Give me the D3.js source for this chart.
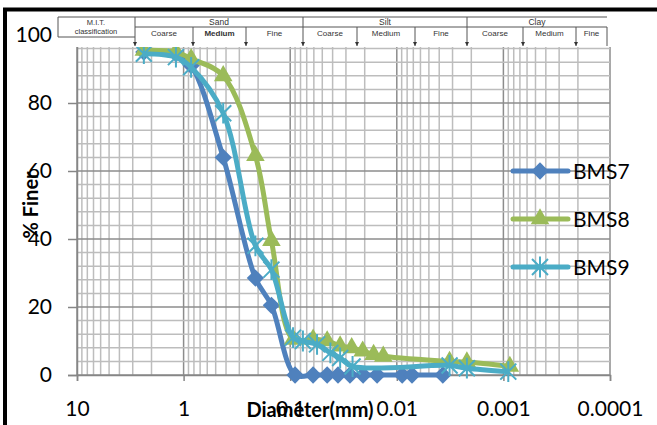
<!DOCTYPE html>
<html>
<head>
<meta charset="utf-8">
<script src="https://cdn.jsdelivr.net/npm/d3@7"></script>
<style>
  body { margin: 0; background: #fff; }
  svg { display: block; font-family: Lato, "Liberation Sans", sans-serif; }
</style>
</head>
<body>
<div id="chart"></div>
<script>
// sieve + hydrometer results, diameter in mm, % finer
const bms7Dia = [2.36, 1.18, 0.85, 0.425, 0.212, 0.15, 0.09, 0.061, 0.045, 0.0356, 0.0275, 0.0207, 0.0153, 0.0089, 0.0072, 0.0037];
const bms7Pct = [95, 94.5, 91, 64, 28.5, 20.5, 0, 0, 0, 0, 0, 0, 0, 0, 0, 0];

const bms8Dia = [2.36, 1.18, 0.85, 0.425, 0.212, 0.15, 0.094, 0.061, 0.045, 0.034, 0.0265, 0.0209, 0.0165, 0.0134, 0.0032, 0.0022, 0.00087];
const bms8Pct = [95.5, 95, 93, 88, 64.5, 39.5, 10.5, 10.5, 10, 8.5, 8, 7, 6, 5.5, 4, 3.8, 2.5];

const bms9Dia = [2.36, 1.18, 0.85, 0.425, 0.212, 0.15, 0.094, 0.076, 0.056, 0.042, 0.034, 0.026, 0.0032, 0.0022, 0.0009];
const bms9Pct = [94.5, 93.5, 90.5, 77, 38, 31, 11, 10, 9, 6.5, 5, 2.5, 2.8, 2, 1];

const seriesNames = ["BMS7", "BMS8", "BMS9"];
const xTicks = [10, 1, 0.1, 0.01, 0.001, 0.0001];
const xTickLabels = ["10", "1", "0.1", "0.01", "0.001", "0.0001"];
const yTicks = [0, 20, 40, 60, 80, 100];

const mitGroups = ["Sand", "Silt", "Clay"];
const mitSubs = ["Coarse", "Medium", "Fine"];

const colors = ["#4f81bd", "#9bbb59", "#4bacc6"];

const W = 657, H = 425;
const svg = d3.select("#chart").append("svg")
  .attr("width", W).attr("height", H);

svg.append("rect").attr("width", W).attr("height", H).attr("fill", "#fff");

const x = d3.scaleLog().domain([10, 0.0001]).range([77, 610]);
const y = d3.scaleLinear().domain([0, 100]).range([375, 35]);

// grid
const grid = svg.append("g");
const vLines = [];
for (let k = -4; k <= 0; k++) {
  for (let m = 1; m <= 9; m++) vLines.push({ v: m * Math.pow(10, k), major: m === 1 });
}
vLines.push({ v: 10, major: true });
grid.selectAll(".vg").data(vLines).enter().append("line")
  .attr("x1", d => x(d.v)).attr("x2", d => x(d.v))
  .attr("y1", y(0)).attr("y2", y(100))
  .attr("stroke", d => d.major ? "#8c8c8c" : "#bdbdbd")
  .attr("stroke-width", 1.5);

const hLines = d3.range(0, 101, 4);
grid.selectAll(".hg").data(hLines).enter().append("line")
  .attr("x1", x(10)).attr("x2", x(0.0001))
  .attr("y1", d => y(d)).attr("y2", d => y(d))
  .attr("stroke", d => d % 20 === 0 ? "#8c8c8c" : "#bdbdbd")
  .attr("stroke-width", 1.5);

// axes
const yAxis = svg.append("g")
  .attr("transform", `translate(${x(10)},0)`)
  .call(d3.axisLeft(y).tickValues(yTicks).tickSize(9).tickPadding(16));
yAxis.select(".domain").attr("stroke", "#868686").attr("stroke-width", 1.5);
yAxis.selectAll(".tick line").attr("stroke", "#868686").attr("stroke-width", 1.5);
yAxis.selectAll("text").attr("font-size", 21).attr("fill", "#000")
  .attr("font-family", "Lato, sans-serif");

const xAxis = svg.append("g")
  .attr("transform", `translate(0,${y(0)})`)
  .call(d3.axisBottom(x).tickValues(xTicks).tickFormat((d, i) => xTickLabels[i]).tickSize(6).tickPadding(20));
xAxis.select(".domain").attr("stroke", "#868686").attr("stroke-width", 1.5);
xAxis.selectAll(".tick line").attr("stroke", "#868686").attr("stroke-width", 1.5);
xAxis.selectAll("text").attr("font-size", 21).attr("fill", "#000")
  .attr("font-family", "Lato, sans-serif");

// series
const series = [
  { name: seriesNames[0], color: colors[0], marker: "diamond", pts: bms7Dia.map((d, i) => [d, bms7Pct[i]]) },
  { name: seriesNames[1], color: colors[1], marker: "triangle", pts: bms8Dia.map((d, i) => [d, bms8Pct[i]]) },
  { name: seriesNames[2], color: colors[2], marker: "star", pts: bms9Dia.map((d, i) => [d, bms9Pct[i]]) }
];

const line = d3.line()
  .x(d => x(d[0])).y(d => y(d[1]))
  .curve(d3.curveCatmullRom.alpha(0.5));

function drawMarker(g, type, color) {
  if (type === "diamond") {
    g.append("path").attr("d", d3.symbol(d3.symbolSquare, 150)())
      .attr("transform", "rotate(45)").attr("fill", color);
  } else if (type === "triangle") {
    g.append("path").attr("d", d3.symbol(d3.symbolTriangle, 150)())
      .attr("fill", color);
  } else {
    const r = 8;
    g.append("path")
      .attr("d", `M${-r},${-r}L${r},${r}M${-r},${r}L${r},${-r}M0,${-r * 1.3}L0,${r * 1.3}`)
      .attr("stroke", color).attr("stroke-width", 2).attr("fill", "none");
  }
}

series.forEach(s => {
  const g = svg.append("g");
  g.append("path").datum(s.pts)
    .attr("d", line)
    .attr("fill", "none")
    .attr("stroke", s.color)
    .attr("stroke-width", 5)
    .attr("stroke-linejoin", "round");
  g.selectAll(".m").data(s.pts).enter().append("g")
    .attr("transform", d => `translate(${x(d[0])},${y(d[1])})`)
    .each(function () { drawMarker(d3.select(this), s.marker, s.color); });
});

// M.I.T. classification header
const hdr = svg.append("g").attr("stroke", "#555").attr("stroke-width", 1);
hdr.append("rect").attr("x", 57).attr("y", 16).attr("width", 556).attr("height", 31)
  .attr("fill", "#fff").attr("stroke", "none");
const bounds = [135, 193, 246, 303, 357, 415, 467, 523, 576, 607];
const hTop = 17, hMid = 27, hBot = 37, hArrow = 46;
hdr.append("line").attr("x1", 58).attr("x2", 607).attr("y1", hTop).attr("y2", hTop);
hdr.append("line").attr("x1", 58).attr("x2", 58).attr("y1", hTop).attr("y2", hBot);
hdr.append("line").attr("x1", 58).attr("x2", 135).attr("y1", hBot).attr("y2", hBot);
hdr.append("line").attr("x1", 135).attr("x2", 607).attr("y1", hMid).attr("y2", hMid);
bounds.forEach((bx, i) => {
  const isGroup = i % 3 === 0 && i < 9;
  hdr.append("line").attr("x1", bx).attr("x2", bx)
    .attr("y1", isGroup ? hTop : hMid).attr("y2", hArrow);
  if (i < 9) {
    hdr.append("path").attr("d", `M${bx - 2},${hArrow - 4}L${bx + 2},${hArrow - 4}L${bx},${hArrow}Z`)
      .attr("fill", "#333").attr("stroke", "none");
  }
});
const htext = svg.append("g").attr("fill", "#333").attr("text-anchor", "middle")
  .attr("font-family", "'Liberation Sans', Arial, sans-serif");
htext.append("text").attr("x", 96).attr("y", 25).attr("font-size", 7.5).text("M.I.T.");
htext.append("text").attr("x", 96).attr("y", 34).attr("font-size", 7.5).text("classification");
mitGroups.forEach((gname, gi) => {
  const x0 = bounds[gi * 3], x1 = bounds[gi * 3 + 3];
  htext.append("text").attr("x", (x0 + x1) / 2).attr("y", 25).attr("font-size", 8.5).text(gname);
  mitSubs.forEach((sname, si) => {
    const a = bounds[gi * 3 + si], b = bounds[gi * 3 + si + 1];
    htext.append("text").attr("x", (a + b) / 2).attr("y", 35.5).attr("font-size", 8)
      .attr("font-weight", gi === 0 && si === 1 ? "bold" : "normal").text(sname);
  });
});

// legend
const legY = [171, 219, 267];
series.forEach((s, i) => {
  const g = svg.append("g").attr("transform", `translate(0,${legY[i]})`);
  g.append("line").attr("x1", 513).attr("x2", 568).attr("y1", 0).attr("y2", 0)
    .attr("stroke", s.color).attr("stroke-width", 5).attr("stroke-linecap", "round");
  const mg = g.append("g").attr("transform", "translate(540,0)");
  drawMarker(mg, s.marker, s.color);
  g.append("text").attr("x", 573).attr("y", 8).attr("font-size", 21)
    .attr("fill", "#000").text(s.name);
});

// axis titles
svg.append("text")
  .attr("transform", `translate(38,205) rotate(-90)`)
  .attr("text-anchor", "middle").attr("font-weight", "bold").attr("font-size", 20)
  .text("% Finer");
svg.append("text")
  .attr("x", 310).attr("y", 417).attr("text-anchor", "middle")
  .attr("font-weight", "bold").attr("font-size", 20)
  .text("Diameter(mm)");

// outer frame
svg.append("rect").attr("x", 5).attr("y", 9.5).attr("width", 700).attr("height", 500)
  .attr("fill", "none").attr("stroke", "#000").attr("stroke-width", 4);
</script>
</body>
</html>
